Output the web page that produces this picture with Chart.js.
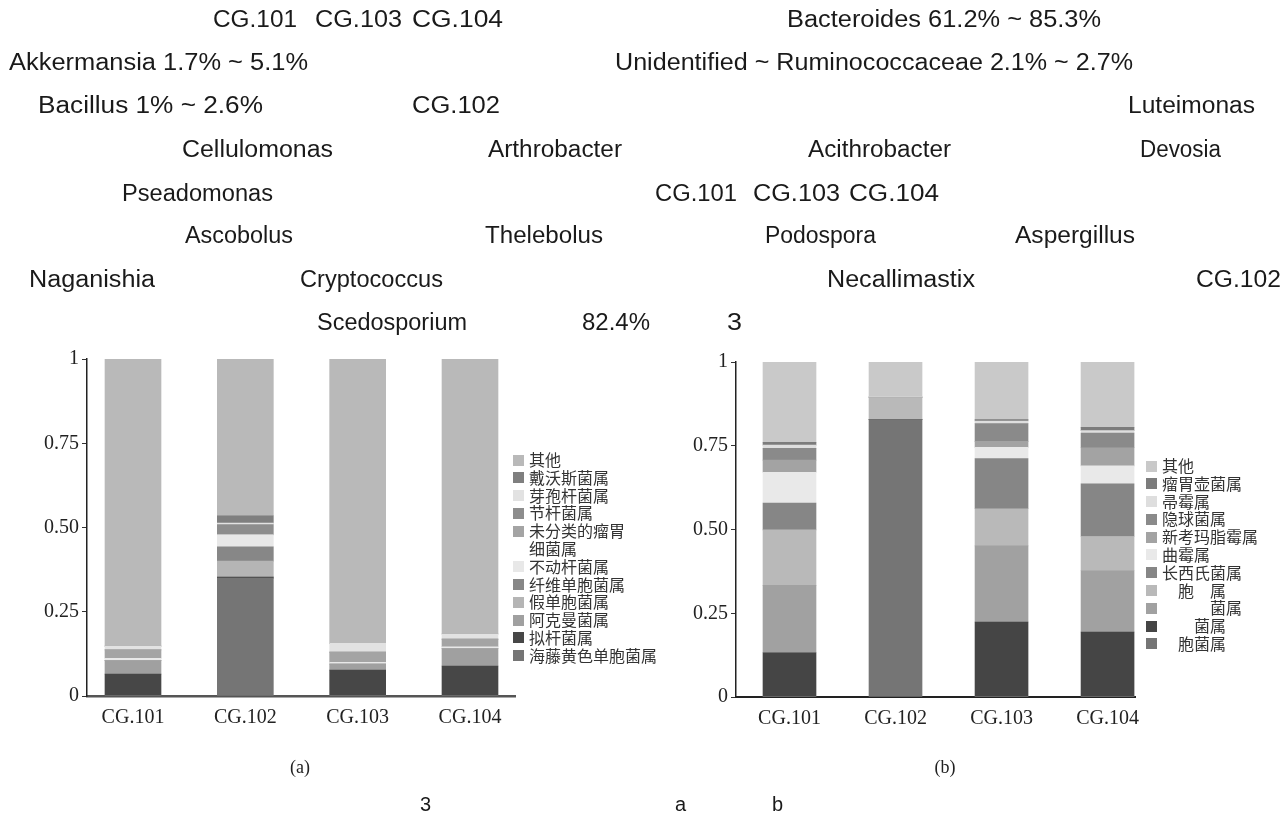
<!DOCTYPE html>
<html>
<head>
<meta charset="utf-8">
<script src="https://cdn.jsdelivr.net/npm/chart.js@4.4.0/dist/chart.umd.min.js"></script>
<style>
  html, body { margin: 0; padding: 0; background: #fff; }
  body { width: 1283px; height: 815px; position: relative; overflow: hidden; }
  canvas { position: absolute; }
  #notes { position: absolute; left: 0; top: 0; pointer-events: none; }
  .legend { position: absolute; font-family: "Noto Sans CJK SC", sans-serif; font-size: 16px; color: #333; }
  .legend .row { position: relative; line-height: 17.8px; white-space: pre; }
  .legend .sw { position: absolute; left: 0; top: 3.5px; width: 11px; height: 11px; }
</style>
</head>
<body>
<canvas id="chartA" width="520" height="400" style="left:0px;top:340px;"></canvas>
<canvas id="chartB" width="500" height="401" style="left:650px;top:340px;"></canvas>
<div class="legend" id="legendA" style="left:513px;top:451px;"></div>
<div class="legend" id="legendB" style="left:1146px;top:457px;"></div>
<svg id="notes" width="1283" height="815" xmlns="http://www.w3.org/2000/svg"></svg>
<script>
var groups = ['CG.101', 'CG.102', 'CG.103', 'CG.104'];
var yTickLabels = ['0', '0.25', '0.50', '0.75', '1'];

// (a) bacteria, listed from the bottom of the stack upwards
var bacteriaNames = ['海藤黄色单胞菌属', '拟杆菌属', '阿克曼菌属', '假单胞菌属', '纤维单胞菌属',
  '不动杆菌属', '未分类的瘤胃\n细菌属', '节杆菌属', '芽孢杆菌属', '戴沃斯菌属', '其他'];
var luteimonas    = [0.002, 0.350, 0.002, 0.002];
var bacteroides   = [0.063, 0.003, 0.075, 0.087];
var akkermansia   = [0.040, 0.000, 0.018, 0.052];
var pseudomonas   = [0.000, 0.047, 0.000, 0.000];
var cellulomonas  = [0.000, 0.043, 0.000, 0.000];
var acinetobacter = [0.007, 0.035, 0.005, 0.005];
var ruminococc    = [0.025, 0.002, 0.030, 0.023];
var arthrobacter  = [0.000, 0.029, 0.000, 0.000];
var bacillus      = [0.011, 0.004, 0.026, 0.015];
var devosia       = [0.000, 0.022, 0.000, 0.000];
var bacteriaOther = [0.852, 0.465, 0.844, 0.816];

// (b) fungi, listed from the bottom of the stack upwards
var fungiNames = ['\u3000胞菌属', '\u3000\u3000菌属', '\u3000\u3000\u3000菌属', '\u3000胞\u3000属',
  '长西氏菌属', '曲霉属', '新考玛脂霉属', '隐球菌属', '帚霉属', '瘤胃壶菌属', '其他'];
var fungus1    = [0.002, 0.828, 0.002, 0.002];
var fungus2    = [0.130, 0.000, 0.222, 0.192];
var fungus3    = [0.201, 0.000, 0.227, 0.183];
var fungus4    = [0.166, 0.066, 0.111, 0.102];
var changxi    = [0.080, 0.000, 0.150, 0.157];
var aspergil   = [0.092, 0.000, 0.033, 0.054];
var naganish   = [0.036, 0.000, 0.018, 0.054];
var cryptoc    = [0.035, 0.000, 0.053, 0.044];
var zhoumei    = [0.010, 0.003, 0.008, 0.007];
var neocalli   = [0.008, 0.000, 0.004, 0.010];
var fungiOther = [0.240, 0.103, 0.172, 0.195];

var bacteriaValues = [luteimonas, bacteroides, akkermansia, pseudomonas, cellulomonas,
  acinetobacter, ruminococc, arthrobacter, bacillus, devosia, bacteriaOther];
var fungiValues = [fungus1, fungus2, fungus3, fungus4, changxi, aspergil, naganish,
  cryptoc, zhoumei, neocalli, fungiOther];

var bacteriaColors = ['#757575', '#474747', '#a0a0a0', '#b5b5b5', '#878787',
  '#e8e8e8', '#a4a4a4', '#8d8d8d', '#e2e2e2', '#7f7f7f', '#b9b9b9'];
var fungiColors = ['#757575', '#454545', '#a1a1a1', '#b9b9b9', '#868686',
  '#e9e9e9', '#a3a3a3', '#8a8a8a', '#dedede', '#7c7c7c', '#c9c9c9'];

// free text above and below the charts: [text, left, right, baseline]
var notes = [
  ['CG.101', 213, 297, 27], ['CG.103', 315, 402, 27], ['CG.104', 412, 503, 27],
  ['Bacteroides 61.2% ~ 85.3%', 787, 1101, 27],
  ['Akkermansia 1.7% ~ 5.1%', 9, 308, 70],
  ['Unidentified ~ Ruminococcaceae 2.1% ~ 2.7%', 615, 1133, 70],
  ['Bacillus 1% ~ 2.6%', 38, 263, 113], ['CG.102', 412, 500, 113], ['Luteimonas', 1128, 1255, 113],
  ['Cellulomonas', 182, 333, 157], ['Arthrobacter', 488, 622, 157],
  ['Acithrobacter', 808, 951, 157], ['Devosia', 1140, 1221, 157],
  ['Pseadomonas', 122, 273, 201], ['CG.101', 655, 737, 201], ['CG.103', 753, 840, 201], ['CG.104', 849, 939, 201],
  ['Ascobolus', 185, 293, 243], ['Thelebolus', 485, 603, 243],
  ['Podospora', 765, 876, 243], ['Aspergillus', 1015, 1135, 243],
  ['Naganishia', 29, 155, 287], ['Cryptococcus', 300, 443, 287],
  ['Necallimastix', 827, 975, 287], ['CG.102', 1196, 1281, 287],
  ['Scedosporium', 317, 467, 330], ['82.4%', 582, 650, 330], ['3', 727, 742, 330]
];

var svgNS = 'http://www.w3.org/2000/svg';
var svg = document.getElementById('notes');
function addText(str, x, y, attrs) {
  var t = document.createElementNS(svgNS, 'text');
  t.setAttribute('x', x);
  t.setAttribute('y', y);
  for (var k in attrs) t.setAttribute(k, attrs[k]);
  t.textContent = str;
  svg.appendChild(t);
}
var sansNote = { 'font-family': '"Liberation Sans Narrow", "Liberation Sans", Arial, sans-serif',
  'font-size': '23', fill: '#1a1a1a' };
notes.forEach(function (n) {
  var a = Object.assign({ textLength: n[2] - n[1], lengthAdjust: 'spacingAndGlyphs' }, sansNote);
  addText(n[0], n[1], n[3], a);
});
var serifCap = { 'font-family': '"Liberation Serif", serif', 'font-size': '18', fill: '#222', 'text-anchor': 'middle' };
addText('(a)', 300, 773, serifCap);
addText('(b)', 945, 773, serifCap);
var sansCap = { 'font-family': '"Liberation Sans", sans-serif', 'font-size': '20', fill: '#1a1a1a' };
addText('3', 420, 811, sansCap);
addText('a', 675, 811, sansCap);
addText('b', 772, 811, sansCap);

function buildLegend(id, names, colors) {
  var box = document.getElementById(id);
  for (var k = names.length - 1; k >= 0; k--) {
    var row = document.createElement('div');
    row.className = 'row';
    row.style.paddingLeft = '16px';
    var sw = document.createElement('span');
    sw.className = 'sw';
    sw.style.background = colors[k];
    row.appendChild(sw);
    row.appendChild(document.createTextNode(names[k]));
    box.appendChild(row);
  }
}

function makeChart(id, names, values, colors, opt) {
  return new Chart(document.getElementById(id), {
    type: 'bar',
    data: {
      datasets: names.map(function (name, k) {
        return {
          label: name,
          data: values[k].map(function (v, i) { return { x: i + 1, y: v }; }),
          backgroundColor: colors[k],
          borderWidth: 0,
          barThickness: opt.bar
        };
      })
    },
    options: {
      responsive: false,
      animation: false,
      devicePixelRatio: 1,
      layout: { padding: opt.pad },
      plugins: { legend: { display: false }, tooltip: { enabled: false } },
      scales: {
        x: {
          type: 'linear', min: opt.xmin, max: opt.xmax, offset: false, stacked: true,
          grid: { display: false, drawTicks: false },
          border: { display: true, color: opt.xAxisColor, width: opt.xAxisWidth },
          ticks: {
            stepSize: 1, includeBounds: false, autoSkip: false, maxRotation: 0, padding: 10, color: '#222',
            font: { family: '"Liberation Serif", serif', size: 20 },
            callback: function (v) { return Number.isInteger(v) && v >= 1 && v <= groups.length ? groups[v - 1] : ''; }
          },
          afterFit: function (s) { s.height = 44; }
        },
        y: {
          min: 0, max: 1, stacked: true,
          grid: { display: true, drawOnChartArea: false, drawTicks: true, tickLength: 5, color: '#333' },
          border: { display: true, color: '#222', width: 1.5 },
          ticks: {
            stepSize: 0.25, padding: 3, color: '#222',
            font: { family: '"Liberation Serif", serif', size: 20 },
            callback: function (v, i) { return yTickLabels[i]; }
          },
          afterFit: function (s) { s.width = opt.yw; }
        }
      }
    }
  });
}

makeChart('chartA', bacteriaNames, bacteriaValues, bacteriaColors, {
  bar: 56, xmin: 0.5905, xmax: 4.4006, yw: 87,
  pad: { top: 19, right: 5, left: 0, bottom: 0 },
  xAxisColor: '#555', xAxisWidth: 2.5
});
makeChart('chartB', fungiNames, fungiValues, fungiColors, {
  bar: 53, xmin: 0.4953, xmax: 4.259, yw: 86,
  pad: { top: 22, right: 15, left: 0, bottom: 0 },
  xAxisColor: '#222', xAxisWidth: 2
});
buildLegend('legendA', bacteriaNames, bacteriaColors);
buildLegend('legendB', fungiNames, fungiColors);
</script>
</body>
</html>
